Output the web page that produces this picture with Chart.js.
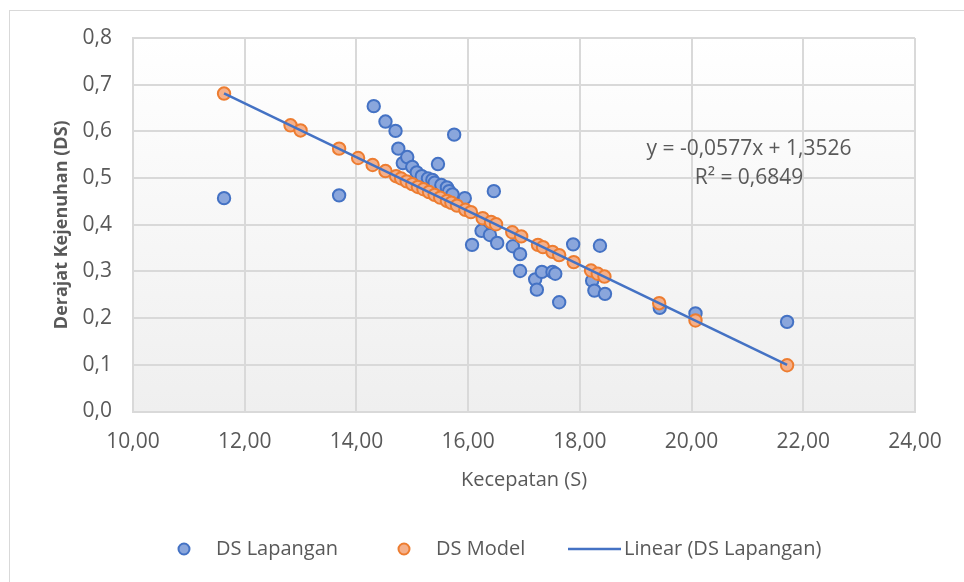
<!DOCTYPE html>
<html><head><meta charset="utf-8">
<script src="https://cdn.jsdelivr.net/npm/chart.js@4.4.1/dist/chart.umd.min.js"></script>
<style>html,body{margin:0;padding:0;background:#fff;overflow:hidden}canvas{display:block}</style>
</head><body>
<canvas id="c" width="964" height="582"></canvas>
<script>
const seriesNames = ['DS Lapangan', 'DS Model', 'Linear (DS Lapangan)'];
const xAxisTitle = 'Kecepatan (S)';
const yAxisTitle = 'Derajat Kejenuhan (DS)';
const xTickValues = [10, 12, 14, 16, 18, 20, 22, 24];
const yTickValues = [0, 0.1, 0.2, 0.3, 0.4, 0.5, 0.6, 0.7, 0.8];

const lapanganX = [11.63, 13.69, 14.31, 14.52, 14.70, 14.75, 14.83, 14.91, 15.00, 15.08, 15.17, 15.28, 15.36, 15.40, 15.46, 15.52, 15.62, 15.66, 15.72, 15.75, 15.94, 16.07, 16.24, 16.39, 16.46, 16.52, 16.80, 16.93, 16.93, 17.20, 17.23, 17.32, 17.51, 17.56, 17.63, 17.88, 18.22, 18.26, 18.36, 18.45, 19.43, 20.07, 21.71];
const lapanganY = [0.457, 0.463, 0.654, 0.621, 0.601, 0.563, 0.532, 0.545, 0.524, 0.512, 0.504, 0.499, 0.496, 0.490, 0.530, 0.485, 0.480, 0.472, 0.465, 0.593, 0.457, 0.357, 0.387, 0.378, 0.472, 0.361, 0.354, 0.337, 0.301, 0.283, 0.261, 0.299, 0.299, 0.295, 0.234, 0.358, 0.280, 0.259, 0.355, 0.252, 0.222, 0.210, 0.192];

const modelX = [11.63, 12.82, 13.00, 13.69, 14.03, 14.29, 14.52, 14.71, 14.80, 14.90, 15.00, 15.10, 15.20, 15.30, 15.40, 15.50, 15.62, 15.70, 15.80, 15.95, 16.05, 16.26, 16.41, 16.50, 16.79, 16.95, 17.25, 17.34, 17.51, 17.63, 17.89, 18.20, 18.32, 18.44, 19.42, 20.07, 21.71];
const modelY = [0.681, 0.613, 0.602, 0.563, 0.543, 0.528, 0.515, 0.504, 0.499, 0.493, 0.487, 0.481, 0.476, 0.470, 0.464, 0.458, 0.451, 0.447, 0.441, 0.432, 0.427, 0.414, 0.406, 0.401, 0.384, 0.375, 0.357, 0.352, 0.342, 0.335, 0.320, 0.302, 0.295, 0.289, 0.232, 0.195, 0.099];

const trendSlope = [-0.0577];
const trendIntercept = [1.3526];
const trendR2 = [0.6849];

const FONT = "'Open Sans', sans-serif";
const TXT = '#595959';
const BLUE = '#4472C4', BLUE_FILL = '#8aa6dc';
const ORANGE = '#ED7D31', ORANGE_FILL = '#f5b08a';
const GRID = '#d9d9d9';

const toPts = (xs, ys) => xs.map((x, i) => ({x: x, y: ys[i]}));
const xMin = Math.min(...lapanganX), xMax = Math.max(...lapanganX);
const trendPts = [xMin, xMax].map(x => ({x: x, y: trendIntercept[0] + trendSlope[0] * x}));
const fmt = (v, d) => v.toFixed(d).replace('.', ',');

const bgPlugin = {
  id: 'bg',
  beforeDraw(chart) {
    const ctx = chart.ctx, a = chart.chartArea;
    ctx.save();
    ctx.fillStyle = '#ffffff';
    ctx.fillRect(0, 0, chart.width, chart.height);
    ctx.strokeStyle = GRID;
    ctx.lineWidth = 1;
    ctx.strokeRect(9.5, 10.5, 1200, 1200);
    const g = ctx.createLinearGradient(0, a.top, 0, a.bottom);
    g.addColorStop(0, '#ffffff');
    g.addColorStop(1, '#efefef');
    ctx.fillStyle = g;
    ctx.fillRect(a.left, a.top, a.right - a.left, a.bottom - a.top);
    ctx.restore();
  }
};

const textPlugin = {
  id: 'texts',
  afterDraw(chart) {
    const ctx = chart.ctx;
    ctx.save();
    // trendline equation
    ctx.fillStyle = TXT;
    ctx.font = '21px ' + FONT;
    ctx.textAlign = 'center';
    ctx.textBaseline = 'middle';
    const sign = trendIntercept[0] >= 0 ? '+ ' : '- ';
    ctx.fillText('y = ' + fmt(trendSlope[0], 4) + 'x ' + sign + fmt(Math.abs(trendIntercept[0]), 4), 749, 149);
    ctx.fillText('R\u00B2 = ' + fmt(trendR2[0], 4), 749, 178);
    // legend
    const ly = 549;
    ctx.font = '20px ' + FONT;
    ctx.textAlign = 'left';
    const circle = (x, fill, stroke) => {
      ctx.beginPath();
      ctx.arc(x, ly, 5.5, 0, Math.PI * 2);
      ctx.fillStyle = fill; ctx.fill();
      ctx.lineWidth = 2; ctx.strokeStyle = stroke; ctx.stroke();
    };
    circle(184, BLUE_FILL, BLUE);
    ctx.fillStyle = TXT; ctx.fillText(seriesNames[0], 216, ly);
    circle(404, ORANGE_FILL, ORANGE);
    ctx.fillStyle = TXT; ctx.fillText(seriesNames[1], 436, ly);
    ctx.beginPath();
    ctx.moveTo(568, ly); ctx.lineTo(621, ly);
    ctx.lineWidth = 2.5; ctx.strokeStyle = BLUE; ctx.stroke();
    ctx.fillStyle = TXT; ctx.fillText(seriesNames[2], 624, ly);
    ctx.restore();
  }
};

new Chart(document.getElementById('c'), {
  type: 'scatter',
  data: {
    datasets: [
      {
        type: 'line', label: seriesNames[2], data: trendPts, order: 0,
        borderColor: BLUE, borderWidth: 2.5, pointRadius: 0, fill: false, tension: 0
      },
      {
        label: seriesNames[1], data: toPts(modelX, modelY), order: 1,
        backgroundColor: ORANGE_FILL, borderColor: ORANGE, borderWidth: 2, pointRadius: 6.2
      },
      {
        label: seriesNames[0], data: toPts(lapanganX, lapanganY), order: 2,
        backgroundColor: BLUE_FILL, borderColor: BLUE, borderWidth: 2, pointRadius: 6.2
      }
    ]
  },
  options: {
    responsive: false,
    animation: false,
    devicePixelRatio: 1,
    layout: { padding: { left: 47, top: 38, right: 49, bottom: 86 } },
    plugins: { legend: { display: false }, tooltip: { enabled: false } },
    scales: {
      x: {
        type: 'linear', min: xTickValues[0], max: xTickValues[xTickValues.length - 1],
        afterBuildTicks: s => { s.ticks = xTickValues.map(v => ({value: v})); },
        afterFit: s => { s.height = 84.5; },
        grid: { color: GRID, lineWidth: 2, drawTicks: false },
        border: { color: GRID, width: 2 },
        ticks: {
          padding: 18, color: TXT, font: { family: FONT, size: 21 }, maxRotation: 0, autoSkip: false,
          callback: v => fmt(v, 2)
        },
        title: { display: true, text: xAxisTitle, color: TXT, font: { family: FONT, size: 20 }, padding: { top: 4, bottom: 4 } }
      },
      y: {
        type: 'linear', min: yTickValues[0], max: yTickValues[yTickValues.length - 1],
        afterBuildTicks: s => { s.ticks = yTickValues.map(v => ({value: v})); },
        afterFit: s => { s.width = 86; },
        grid: { color: GRID, lineWidth: 2, drawTicks: false },
        border: { color: GRID, width: 2 },
        ticks: {
          padding: 21, color: TXT, font: { family: FONT, size: 21 }, autoSkip: false,
          callback: v => fmt(v, 1)
        },
        title: { display: true, text: yAxisTitle, color: TXT, font: { family: FONT, size: 18, weight: 'bold' }, padding: { top: 4, bottom: 4 } }
      }
    }
  },
  plugins: [bgPlugin, textPlugin]
});
</script>
</body></html>
